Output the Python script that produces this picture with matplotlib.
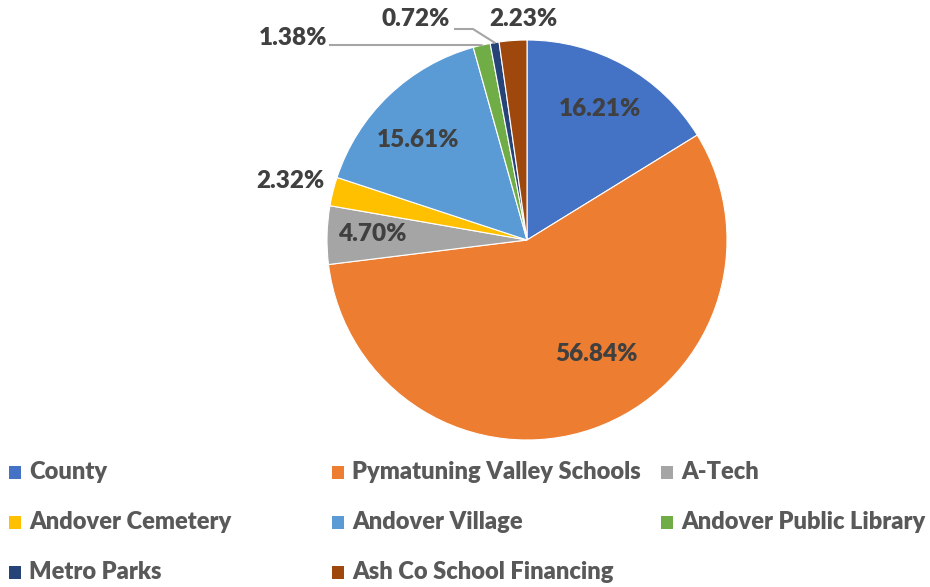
import matplotlib
matplotlib.use("Agg")
import matplotlib.pyplot as plt
import numpy as np
from matplotlib.patches import Rectangle

labels = ["County", "Pymatuning Valley Schools", "A-Tech", "Andover Cemetery",
          "Andover Village", "Andover Public Library", "Metro Parks", "Ash Co School Financing"]
values = [16.21, 56.84, 4.70, 2.32, 15.61, 1.38, 0.72, 2.23]
colors = ["#4472C4", "#ED7D31", "#A5A5A5", "#FFC000", "#5B9BD5", "#70AD47", "#264478", "#9E480E"]

plt.rcParams['font.family'] = ['Lato', 'DejaVu Sans']
W, H = 930, 587
fig = plt.figure(figsize=(W/100, H/100), dpi=100)
cx, cy, R = 527, 240, 200
ax = fig.add_axes([(cx-R)/W, (H-cy-R)/H, 2*R/W, 2*R/H])
wedges, _ = ax.pie(values, colors=colors, startangle=90, counterclock=False, radius=1,
                   wedgeprops=dict(edgecolor="white", linewidth=0.8))
ax.set_xlim(-1, 1); ax.set_ylim(-1, 1)
ax.set_aspect('equal')
ax.axis('off')

tc = "#404040"
fs = 17.5
# label placement (radius, angle offset in degrees)
inside = {0: (0.75, 0), 1: (0.67, 12), 2: (0.775, -0.7), 4: (0.74, 3.9)}
outside_pos = {3: (-1.185, 0.295), 5: (-1.17, 1.01), 6: (-0.555, 1.105), 7: (-0.02, 1.105)}
for i, w in enumerate(wedges):
    mid = np.deg2rad((w.theta1 + w.theta2) / 2)
    txt = f"{values[i]:.2f}%"
    if i in inside:
        r, off = inside[i]
        a = mid + np.deg2rad(off)
        ax.text(r*np.cos(a), r*np.sin(a), txt, ha='center', va='center',
                fontsize=fs, fontweight='heavy', color=tc)
    else:
        x, y = outside_pos[i]
        ax.text(x, y, txt, ha='center', va='center', fontsize=fs, fontweight='heavy',
                color=tc, clip_on=False)
        ex, ey = 1.0*np.cos(mid), 1.0*np.sin(mid)
        if i == 5:
            ax.plot([-0.985, ex - 0.02, ex], [0.975, 0.975, ey], color="#A5A5A5", lw=1.5, clip_on=False)
        elif i == 6:
            ax.plot([-0.36, -0.27, ex], [1.055, 1.055, ey], color="#A5A5A5", lw=1.5, clip_on=False)

# legend (manual, three equal columns)
lc = "#595959"
col_x = [9, 332, 661]
row_y = [472, 522, 572]
for k, (lab, col) in enumerate(zip(labels, colors)):
    r_, c_ = divmod(k, 3)
    x0, y0 = col_x[c_], row_y[r_]
    fig.patches.append(Rectangle((x0/W, (H - y0 - 6.5)/H), 12/W, 13/H, transform=fig.transFigure,
                                 facecolor=col, edgecolor='none'))
    fig.text((x0 + 20)/W, (H - y0)/H, lab, ha='left', va='center', fontsize=17,
             fontweight='heavy', color=lc)

fig.savefig("out.png", dpi=100)
